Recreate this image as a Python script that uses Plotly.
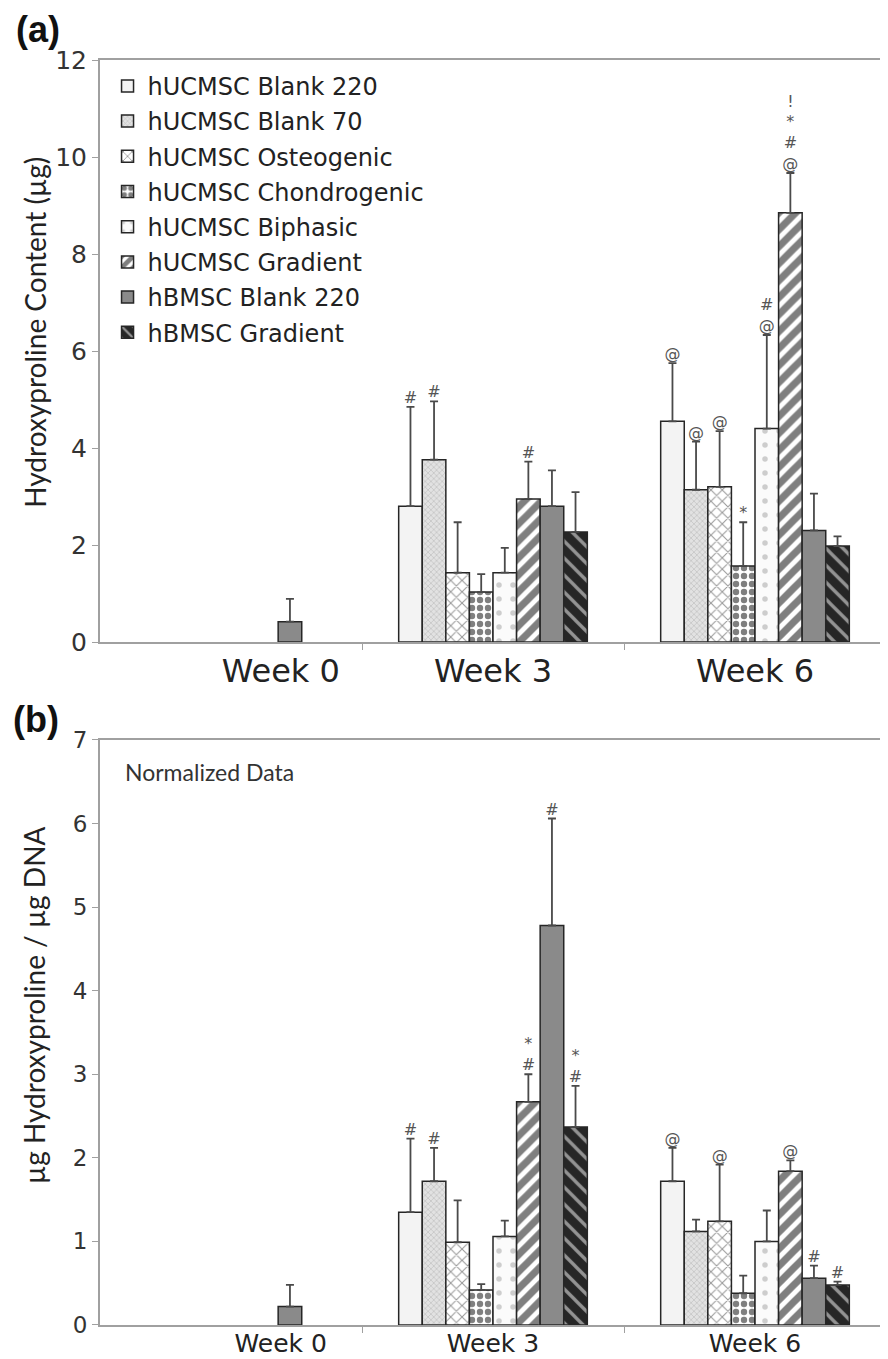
import plotly.graph_objects as go
from plotly.subplots import make_subplots

WEEKS = ["Week 0", "Week 3", "Week 6"]
SERIES = ["hUCMSC Blank 220", "hUCMSC Blank 70", "hUCMSC Osteogenic",
          "hUCMSC Chondrogenic", "hUCMSC Biphasic", "hUCMSC Gradient",
          "hBMSC Blank 220", "hBMSC Gradient"]

# (a) Hydroxyproline content (ug), values per series for each week
CONTENT_W0 = [None, None, None, None, None, None, 0.42, None]
CONTENT_W3 = [2.80, 3.76, 1.43, 1.03, 1.43, 2.95, 2.80, 2.27]
CONTENT_W6 = [4.55, 3.14, 3.20, 1.57, 4.40, 8.85, 2.30, 1.98]
CONTENT_ERR_W0 = [0, 0, 0, 0, 0, 0, 0.47, 0]
CONTENT_ERR_W3 = [2.05, 1.20, 1.04, 0.37, 0.51, 0.77, 0.74, 0.82]
CONTENT_ERR_W6 = [1.20, 0.99, 1.15, 0.90, 1.93, 0.82, 0.76, 0.20]
CONTENT_SIG_W0 = ["", "", "", "", "", "", "", ""]
CONTENT_SIG_W3 = ["#", "#", "", "", "", "#", "", ""]
CONTENT_SIG_W6 = ["@", "@", "@", "*", "#<br>@", "!<br>*<br>#<br>@", "", ""]

# (b) Normalized: ug hydroxyproline / ug DNA
NORM_W0 = [None, None, None, None, None, None, 0.22, None]
NORM_W3 = [1.35, 1.72, 0.99, 0.42, 1.06, 2.67, 4.78, 2.37]
NORM_W6 = [1.72, 1.12, 1.24, 0.38, 1.00, 1.84, 0.56, 0.48]
NORM_ERR_W0 = [0, 0, 0, 0, 0, 0, 0.26, 0]
NORM_ERR_W3 = [0.88, 0.40, 0.50, 0.07, 0.19, 0.33, 1.28, 0.49]
NORM_ERR_W6 = [0.40, 0.14, 0.68, 0.21, 0.37, 0.13, 0.15, 0.04]
NORM_SIG_W0 = ["", "", "", "", "", "", "", ""]
NORM_SIG_W3 = ["#", "#", "", "", "", "*<br>#", "#", "*<br>#"]
NORM_SIG_W6 = ["@", "", "@", "", "", "@", "#", "#"]

STYLES = [
    dict(color="#f3f3f3", pattern=dict(shape="")),
    dict(color="#dcdcdc", pattern=dict(shape="x", fgcolor="#999999", bgcolor="#e2e2e2", size=4, solidity=0.3)),
    dict(color="#ffffff", pattern=dict(shape="x", fgcolor="#333333", bgcolor="#ffffff", size=8, solidity=0.25)),
    dict(color="#ffffff", pattern=dict(shape=".", fgcolor="#000000", bgcolor="#ffffff", size=8, solidity=0.5)),
    dict(color="#fbfbfb", pattern=dict(shape=".", fgcolor="#a0a0a0", bgcolor="#fbfbfb", size=14, solidity=0.12)),
    dict(color="#ffffff", pattern=dict(shape="/", fgcolor="#000000", bgcolor="#ffffff", size=12, solidity=0.6)),
    dict(color="#8a8a8a", pattern=dict(shape="")),
    dict(color="#262626", pattern=dict(shape="\\", fgcolor="#ffffff", bgcolor="#262626", size=12, solidity=0.28)),
]

X = list(range(len(WEEKS)))

fig = make_subplots(rows=2, cols=1)


def add_panel(row, w0, w3, w6, e0, e3, e6, s0, s3, s6, legend):
    for i, name in enumerate(SERIES):
        ys = [w0[i], w3[i], w6[i]]
        es = [e0[i], e3[i], e6[i]]
        st = STYLES[i]
        fig.add_trace(go.Bar(
            x=X, y=ys, name=name, showlegend=legend, legendgroup=name,
            offsetgroup=str(i),
            marker=dict(color=st["color"], pattern=st["pattern"],
                        line=dict(color="#262626", width=1.5)),
            error_y=dict(type="data", array=es, arrayminus=[0, 0, 0],
                         symmetric=False, color="#4a4a4a", thickness=1.8, width=4),
        ), row=row, col=1)
        sig = [s0[i], s3[i], s6[i]]
        ty = [(y + e) if (y is not None and t) else None for y, e, t in zip(ys, es, sig)]
        fig.add_trace(go.Scatter(
            x=X, y=ty, text=sig, mode="text", textposition="top center",
            textfont=dict(family="DejaVu Sans", size=16, color="#555555"),
            offsetgroup=str(i), showlegend=False, cliponaxis=False, hoverinfo="skip",
        ), row=row, col=1)


add_panel(1, CONTENT_W0, CONTENT_W3, CONTENT_W6, CONTENT_ERR_W0, CONTENT_ERR_W3,
          CONTENT_ERR_W6, CONTENT_SIG_W0, CONTENT_SIG_W3, CONTENT_SIG_W6, True)
add_panel(2, NORM_W0, NORM_W3, NORM_W6, NORM_ERR_W0, NORM_ERR_W3,
          NORM_ERR_W6, NORM_SIG_W0, NORM_SIG_W3, NORM_SIG_W6, False)

LABEL_POS = [0.19, 1.0, 2.0]
axis_line = "#a0a0a0"

for r, fs, so in ((1, 32, 0), (2, 25, -5)):
    fig.update_xaxes(
        range=[-0.5, 2.5], showline=True, linecolor=axis_line, linewidth=2,
        mirror=True, showgrid=False, zeroline=False, automargin=False,
        tickmode="array", tickvals=LABEL_POS, ticktext=WEEKS, ticks="",
        ticklabelstandoff=so,
        tickfont=dict(family="DejaVu Sans", size=fs, color="#222222"),
        minor=dict(tickmode="array", tickvals=[0.5, 1.5], ticks="outside",
                   ticklen=6, tickcolor=axis_line, tickwidth=1),
        row=r, col=1)

fig.update_yaxes(range=[0, 12], dtick=2, row=1, col=1, domain=[0.5399, 1.0],
                 tickfont=dict(family="DejaVu Sans", size=25, color="#333333"))
fig.update_yaxes(range=[0, 7], dtick=1, row=2, col=1, domain=[0.0, 0.4625],
                 tickfont=dict(family="DejaVu Sans", size=23, color="#333333"))
fig.update_yaxes(showline=True, linecolor=axis_line, linewidth=2, showgrid=False,
                 zeroline=False, ticks="outside", ticklen=6, tickcolor=axis_line,
                 automargin=False)

# the page body adds an 8px offset, so the figure is 8px smaller in each direction
fig.update_layout(
    width=880, height=1351,
    margin=dict(l=92, r=2, t=52, b=34, autoexpand=False),
    paper_bgcolor="white", plot_bgcolor="white",
    barmode="group", bargap=0.28, bargroupgap=0,
    scattermode="group", scattergap=0.28,
    legend=dict(x=0.0096, y=0.997, xanchor="left", yanchor="top",
                font=dict(family="DejaVu Sans", size=24, color="#222222"),
                bgcolor="rgba(0,0,0,0)", traceorder="grouped", tracegroupgap=1,
                itemwidth=30),
    annotations=[
        dict(text="Hydroxyproline Content (µg)", textangle=-90, x=-0.083, y=0.785,
             xref="paper", yref="paper", xanchor="center", yanchor="middle",
             showarrow=False, font=dict(family="Lato", size=28, color="#222222")),
        dict(text="µg Hydroxyproline / µg DNA", textangle=-90, x=-0.084, y=0.253,
             xref="paper", yref="paper", xanchor="center", yanchor="middle",
             showarrow=False, font=dict(family="Lato", size=28, color="#222222")),
        dict(text="<b>(a)</b>", x=-0.0795, y=1.0245, xref="paper", yref="paper",
             xanchor="center", yanchor="middle",
             showarrow=False, font=dict(family="Liberation Sans", size=36, color="#111111")),
        dict(text="<b>(b)</b>", x=-0.081, y=0.4785, xref="paper", yref="paper",
             xanchor="center", yanchor="middle",
             showarrow=False, font=dict(family="Liberation Sans", size=36, color="#111111")),
        dict(text="Normalized Data", x=0.029, y=0.437, xref="paper", yref="paper",
             xanchor="left", yanchor="middle", showarrow=False,
             font=dict(family="Lato", size=23, color="#333333")),
    ],
)

fig.write_html("out.html")
